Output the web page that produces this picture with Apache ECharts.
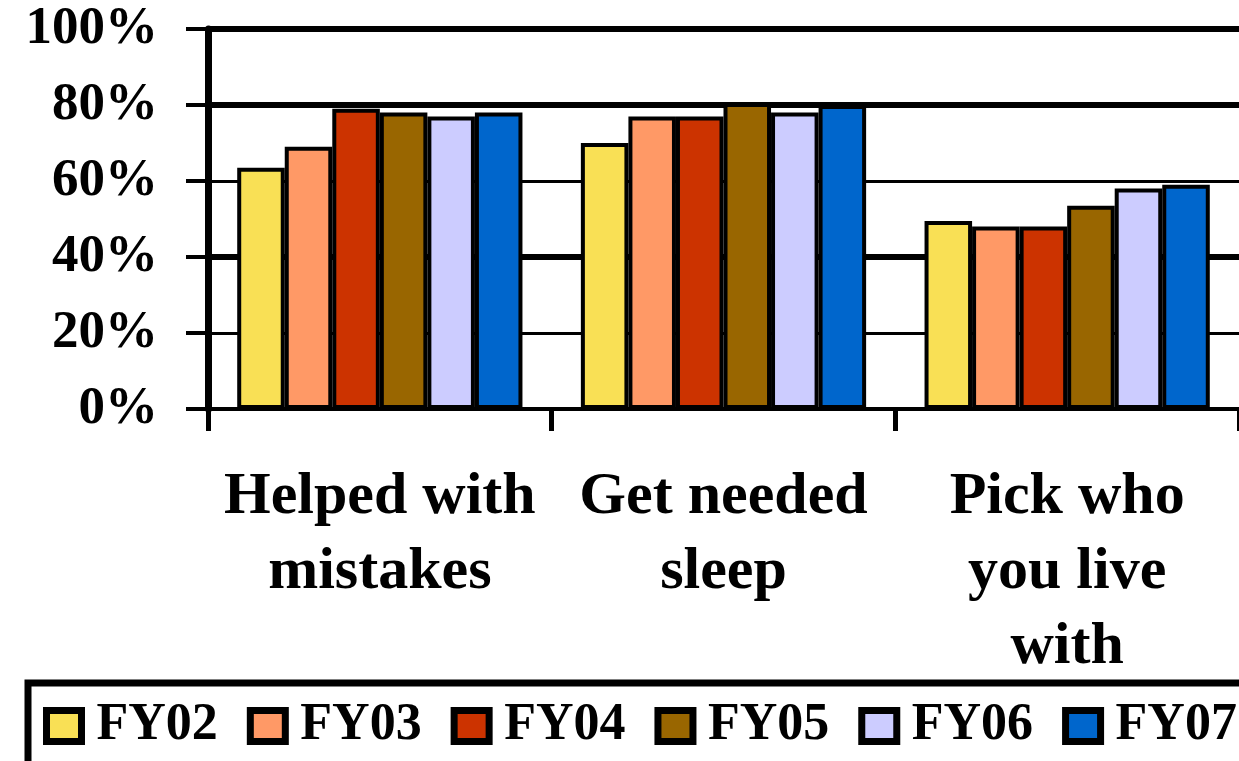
<!DOCTYPE html>
<html>
<head>
<meta charset="utf-8">
<script src="https://cdn.jsdelivr.net/npm/echarts@6/dist/echarts.min.js"></script>
<style>html,body{margin:0;padding:0;background:#fff;}#c{width:1239px;height:761px;}</style>
</head>
<body>
<div id="c"></div>
<script>
const categories = ['Helped with\nmistakes', 'Get needed\nsleep', 'Pick who\nyou live\nwith'];
const seriesNames = ['FY02', 'FY03', 'FY04', 'FY05', 'FY06', 'FY07'];
const FY02 = [63.5, 70, 49.5];
const FY03 = [69, 77, 48];
const FY04 = [79, 77, 48];
const FY05 = [78, 80.5, 53.5];
const FY06 = [77, 78, 58];
const FY07 = [78, 80, 59];
const seriesValues = [FY02, FY03, FY04, FY05, FY06, FY07];
const colors = ['#F9E055', '#FF9966', '#CC3300', '#996600', '#CCCCFF', '#0066CC'];
const yTicks = [0, 20, 40, 60, 80, 100];

const font = '"Liberation Serif", "Times New Roman", serif';
const chart = echarts.init(document.getElementById('c'));
chart.setOption({
  animation: false,
  backgroundColor: '#fff',
  grid: { left: 208, right: 0, top: 29, bottom: 352 },
  legend: {
    data: seriesNames,
    left: 43, top: 700, padding: 0,
    itemWidth: 35, itemHeight: 31, itemGap: 29,
    icon: 'rect',
    itemStyle: { borderColor: '#000', borderWidth: 7 },
    textStyle: { fontFamily: font, fontWeight: 'bold', fontSize: 52, color: '#000', padding: [0, 0, 0, 10] }
  },
  graphic: [{
    type: 'rect', silent: true, z: -1,
    shape: { x: 28, y: 683, width: 1400, height: 200 },
    style: { fill: 'none', stroke: '#000', lineWidth: 7 }
  }],
  xAxis: {
    type: 'category',
    data: categories,
    axisLine: { lineStyle: { color: '#000', width: 4 } },
    axisTick: { show: true, length: 22, lineStyle: { color: '#000', width: 5 } },
    axisLabel: { interval: 0, margin: 51, fontFamily: font, fontWeight: 'bold', fontSize: 60, lineHeight: 75, color: '#000' }
  },
  yAxis: [{
    type: 'value', min: 0, max: 100, interval: 20,
    axisLine: { show: true, lineStyle: { color: '#000', width: 7 } },
    axisTick: { show: true, length: 22, lineStyle: { color: '#000', width: 4 } },
    axisLabel: { margin: 50, fontFamily: font, fontWeight: 'bold', fontSize: 53, color: '#000',
      formatter: v => yTicks.indexOf(v) >= 0 ? v + '%' : '' },
    splitLine: { show: true, lineStyle: { color: '#000', width: 3 } }
  }, {
    type: 'value', min: 0, max: 100, interval: 20, position: 'left',
    axisLine: { show: false }, axisTick: { show: false }, axisLabel: { show: false },
    splitLine: { show: true, lineStyle: { width: 6, color: ['rgba(0,0,0,0)', 'rgba(0,0,0,0)', '#000', 'rgba(0,0,0,0)', '#000', '#000'] } }
  }],
  series: seriesNames.map((n, i) => ({
    name: n, type: 'bar', data: seriesValues[i], yAxisIndex: 0,
    barGap: '0%', barCategoryGap: '17%',
    itemStyle: { color: colors[i], borderColor: '#000', borderWidth: 4 }
  }))
});
</script>
</body>
</html>
